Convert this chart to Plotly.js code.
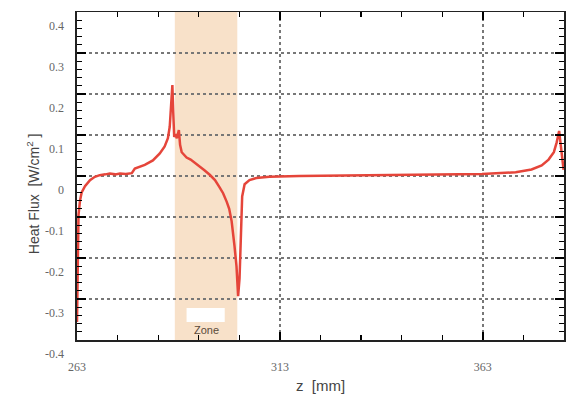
<!DOCTYPE html>
<html>
<head>
<meta charset="utf-8">
<script src="https://cdn.plot.ly/plotly-3.0.1.min.js"></script>
<style>html,body{margin:0;padding:0;background:#fff;}#chart{width:568px;height:400px;}</style>
</head>
<body>
<div id="chart"></div>
<script>
// Position along the axis [mm]
const zPos = [263.0, 263.07, 263.15, 263.25, 263.37, 263.74, 264.15, 264.97, 266.2, 267.4, 268.6, 270.0, 271.1, 272.4, 273.6, 275.0, 276.5, 277.25, 278.5, 279.7, 281.7, 283.4, 284.6, 285.4, 285.85, 286.2, 286.5, 286.7, 286.95, 287.3, 287.6, 288.1, 288.4, 288.8, 289.4, 290.0, 291.0, 292.0, 293.2, 294.4, 295.7, 297.0, 298.1, 299.0, 299.9, 300.5, 301.1, 301.5, 301.8, 302.3, 302.7, 303.05, 303.4, 303.7, 304.3, 305.5, 307.2, 310.4, 317.8, 330.1, 342.4, 352.2, 362.8, 371.1, 375.0, 377.5, 379.2, 380.5, 381.2, 381.8, 382.4, 382.9];
// Heat flux [W/cm^2]
const heatFlux = [-0.356, -0.30, -0.205, -0.13, -0.095, -0.06, -0.04, -0.025, -0.01, -0.002, 0.002, 0.004, 0.006, 0.004, 0.006, 0.005, 0.007, 0.018, 0.022, 0.027, 0.038, 0.055, 0.072, 0.092, 0.12, 0.17, 0.222, 0.16, 0.095, 0.102, 0.092, 0.112, 0.076, 0.058, 0.052, 0.045, 0.040, 0.033, 0.024, 0.014, 0.003, -0.01, -0.027, -0.042, -0.063, -0.08, -0.11, -0.14, -0.17, -0.22, -0.293, -0.25, -0.11, -0.05, -0.02, -0.01, -0.005, -0.002, 0.0, 0.001, 0.003, 0.004, 0.005, 0.009, 0.016, 0.026, 0.04, 0.058, 0.082, 0.11, 0.05, 0.015];

const zoneRange = [287.1, 302.5];
const zoneLabel = "Zone";
const xRange = [263, 383];
const yRange = [-0.4, 0.4];
const xTickVals = [263, 313, 363];
const xTickText = ["263", "313", "363"];
const yTickVals = [-0.4, -0.3, -0.2, -0.1, 0, 0.1, 0.2, 0.3, 0.4];
const yTickText = ["-0.4", "-0.3", "-0.2", "-0.1", "0", "0.1", "0.2", "0.3", "0.4"];
const xTitle = "z  [mm]";
const yTitle = "Heat Flux  [W/cm<sup>2</sup> ]";

const serif = "Liberation Serif";
const sans = "Liberation Sans";

const traces = [
  {x: zPos, y: heatFlux, type: "scatter", mode: "lines",
   line: {color: "#e5453a", width: 2.5}, hoverinfo: "skip"},
  // empty trace so the label-only axes exist as a subplot
  {x: [], y: [], xaxis: "x2", yaxis: "y2", type: "scatter", mode: "lines", hoverinfo: "skip"}
];

const tickFont = {family: serif, size: 12, color: "#666"};

const layout = {
  width: 568, height: 400,
  margin: {l: 77, r: 4, t: 12, b: 60},
  paper_bgcolor: "#ffffff", plot_bgcolor: "#ffffff",
  showlegend: false,
  xaxis: {
    range: xRange, tickmode: "array", tickvals: xTickVals, showticklabels: false,
    showgrid: true, gridcolor: "#777", griddash: "dot", gridwidth: 1.5,
    zeroline: false, showline: true, linecolor: "#222", linewidth: 1.5, mirror: "all",
    ticks: "inside", ticklen: 8, tickcolor: "#000", tickwidth: 1.5,
    minor: {tickmode: "linear", tick0: 263, dtick: 10, ticks: "inside", ticklen: 5, tickcolor: "#000", tickwidth: 1.3, showgrid: false},
    title: {text: xTitle, font: {family: sans, size: 15, color: "#444"}, standoff: 40}
  },
  yaxis: {
    range: yRange, tickmode: "array", tickvals: yTickVals, showticklabels: false,
    showgrid: true, gridcolor: "#777", griddash: "dot", gridwidth: 1.5,
    zeroline: false, showline: true, linecolor: "#222", linewidth: 2, mirror: "all",
    ticks: "inside", ticklen: 9, tickcolor: "#000", tickwidth: 1.5,
    minor: {tickmode: "linear", tick0: -0.4, dtick: 0.02, ticks: "inside", ticklen: 5, tickcolor: "#000", tickwidth: 1.3, showgrid: false}
  },
  // label-only axes over the same ranges
  xaxis2: {
    overlaying: "x", anchor: "y2", side: "bottom", range: xRange,
    tickmode: "array", tickvals: xTickVals, ticktext: xTickText,
    showgrid: false, zeroline: false, showline: false, ticks: "",
    tickfont: tickFont, ticklabelstandoff: 18, ticklabelshift: 0
  },
  yaxis2: {
    overlaying: "y", anchor: "x2", side: "left", range: yRange,
    tickmode: "array", tickvals: yTickVals, ticktext: yTickText,
    showgrid: false, zeroline: false, showline: false, ticks: "",
    tickfont: tickFont, ticklabelstandoff: 12, ticklabelshift: 14
  },
  shapes: [
    {type: "rect", xref: "x", yref: "y", x0: zoneRange[0], x1: zoneRange[1], y0: -0.4, y1: 0.4,
     fillcolor: "#f8e1c9", line: {width: 0}, layer: "below"},
    {type: "rect", xref: "x", yref: "y", x0: 290.0, x1: 299.4, y0: -0.356, y1: -0.322,
     fillcolor: "#ffffff", line: {width: 0}, layer: "below"}
  ],
  annotations: [
    {xref: "x", yref: "y", x: (zoneRange[0] + zoneRange[1]) / 2, y: -0.376, text: zoneLabel,
     showarrow: false, font: {family: sans, size: 11, color: "#5a4a3a"}},
    {xref: "paper", yref: "paper", x: -0.09, y: 0.445, text: yTitle, textangle: -90,
     showarrow: false, xanchor: "center", yanchor: "middle",
     font: {family: sans, size: 14, color: "#444"}}
  ]
};

Plotly.newPlot("chart", traces, layout, {staticPlot: true, displayModeBar: false});
</script>
</body>
</html>
